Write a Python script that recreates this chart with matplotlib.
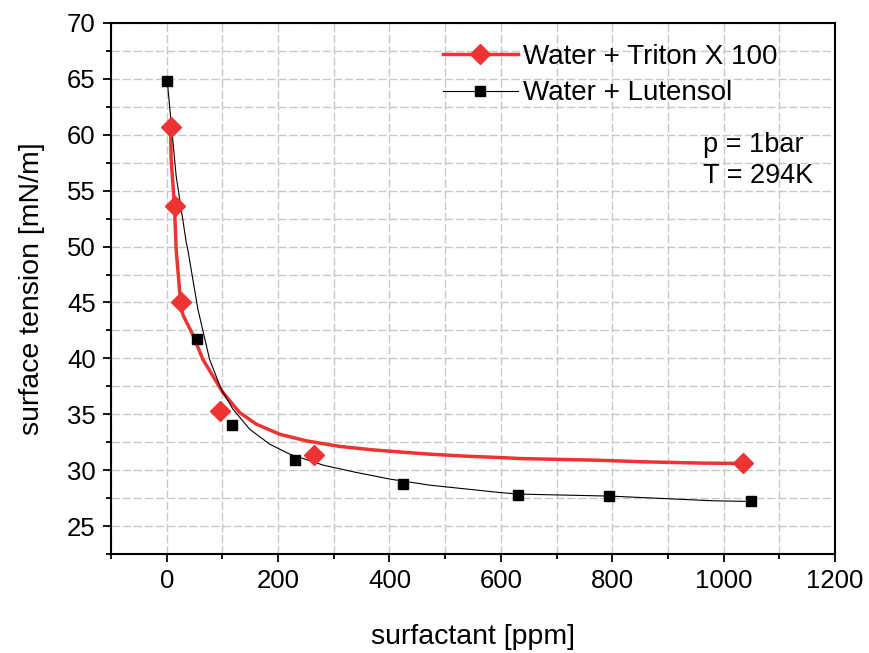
"""surface tension vs surfactant concentration"""

import matplotlib
matplotlib.use("Agg")
import matplotlib.pyplot as plt
from matplotlib.ticker import MultipleLocator

# measured points
triton_ppm = [7, 14, 25, 95, 264, 1034]
triton_st = [60.7, 53.6, 45.0, 35.3, 31.4, 30.6]

lutensol_ppm = [0, 55, 118, 230, 424, 631, 795, 1050]
lutensol_st = [64.8, 41.7, 34.0, 30.9, 28.8, 27.8, 27.7, 27.2]

# fitted curves
triton_fit_ppm = [7, 8, 14, 17, 25, 29, 47, 65, 101, 131, 161, 203, 251,
                  311, 371, 431, 472, 538, 598, 634, 772, 862, 963, 1035]
triton_fit_st = [60.7, 57.8, 53.6, 49.7, 45.0, 43.9, 42.1, 39.9, 36.94,
                 35.15, 34.11, 33.21, 32.62, 32.12, 31.81, 31.58, 31.43,
                 31.25, 31.13, 31.04, 30.89, 30.74, 30.63, 30.6]

lutensol_fit_ppm = [1, 17, 35, 38, 56, 77, 98, 119, 149, 185, 221, 281,
                    341, 401, 472, 598, 632, 796, 981, 1051]
lutensol_fit_st = [64.8, 56.3, 50.4, 49.7, 44.4, 39.91, 37.23, 35.45, 33.66,
                   32.32, 31.43, 30.45, 29.79, 29.2, 28.66, 28.0, 27.86,
                   27.68, 27.26, 27.2]

RED = "#ee3333"

plt.rcParams['font.family'] = ['Liberation Sans', 'DejaVu Sans']

fig = plt.figure(figsize=(8.7, 6.53), dpi=100)
ax = fig.add_axes([0.1276, 0.1516, 0.8322, 0.8132])

ax.set_xlim(-100, 1200)
ax.set_ylim(22.5, 70)
ax.xaxis.set_major_locator(MultipleLocator(200))
ax.xaxis.set_minor_locator(MultipleLocator(100))
ax.yaxis.set_major_locator(MultipleLocator(5))
ax.yaxis.set_minor_locator(MultipleLocator(2.5))

ax.grid(True, which='both', color='#c8c8c8', linestyle=(0, (6, 2)), linewidth=1.0)
ax.set_axisbelow(True)

for s in ax.spines.values():
    s.set_linewidth(1.5)
ax.tick_params(which='major', direction='out', length=6, width=1.3, labelsize=18.5,
               pad=5, top=False, right=False)
ax.tick_params(which='minor', direction='out', length=3.5, width=1.3,
               top=False, right=False)

# curves
ax.plot(triton_fit_ppm, triton_fit_st, color=RED, lw=2.5, zorder=3)
ax.plot(lutensol_fit_ppm, lutensol_fit_st, color='black', lw=0.8, zorder=3)
ax.plot(triton_ppm, triton_st, 'D', color=RED, ms=10, mec=RED, zorder=4)
ax.plot(lutensol_ppm, lutensol_st, 's', color='black', ms=7.5, zorder=4)

# legend proxies
h1, = ax.plot([], [], color=RED, lw=2.5, marker='D', ms=10)
h2, = ax.plot([], [], color='black', lw=0.8, marker='s', ms=7.5)
fig.legend([h1, h2], ["Water + Triton X 100", "Water + Lutensol"],
           loc='upper left', bbox_to_anchor=(0.509, 0.933), frameon=False,
           fontsize=20, handlelength=2.7, handletextpad=0.2,
           labelspacing=0.38, borderpad=0, borderaxespad=0)

ax.text(0.8177, 0.741, "p = 1bar\nT = 294K", transform=ax.transAxes,
        fontsize=19.5, va='center', ha='left', linespacing=1.25)

ax.set_xlabel("surfactant [ppm]", fontsize=20.5, labelpad=22)
ax.set_ylabel("surface tension [mN/m]", fontsize=20.5, labelpad=16)

plt.savefig("out.png", dpi=100)
